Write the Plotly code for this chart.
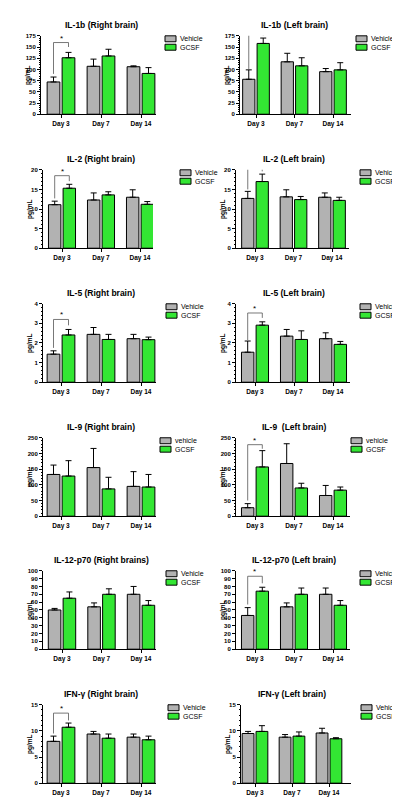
import plotly.graph_objects as go

W, H = 400, 800

days = ["Day 3", "Day 7", "Day 14"]
titles = ["IL-1b (Right brain)", "IL-1b (Left brain)",
          "IL-2 (Right brain)", "IL-2 (Left brain)",
          "IL-5 (Right brain)", "IL-5 (Left brain)",
          "IL-9 (Right brain)", "IL-9  (Left brain)",
          "IL-12-p70 (Right brains)", "IL-12-p70 (Left brain)",
          "IFN-γ (Right brain)", "IFN-γ (Left brain)"]
legend_names = [("Vehicle", "GCSF")] * 6 + [("vehicle", "GCSF")] * 2 + [("Vehicle", "GCSF")] * 4

vehicle_mean = [[72, 107, 106], [78, 117, 95], [11.1, 12.3, 13.0], [12.7, 13.1, 13.0],
                [1.43, 2.44, 2.22], [1.53, 2.35, 2.22], [133, 155, 95], [27, 168, 66],
                [50, 54, 70], [43, 54, 70], [8.0, 9.4, 8.8], [9.5, 8.8, 9.6]]
vehicle_sem = [[11, 16, 2], [21, 19, 7], [0.9, 1.8, 1.9], [1.8, 1.8, 1.1],
               [0.17, 0.35, 0.22], [0.57, 0.34, 0.30], [30, 61, 47], [13, 63, 32],
               [2, 5, 10], [10, 5, 8], [1.0, 0.5, 0.6], [0.4, 0.5, 0.9]]
gcsf_mean = [[126, 130, 91], [158, 108, 99], [15.3, 13.6, 11.2], [17.0, 12.4, 12.2],
             [2.41, 2.18, 2.17], [2.91, 2.18, 1.93], [128, 87, 93], [157, 90, 83],
             [65, 70, 56], [74, 70, 56], [10.7, 8.6, 8.3], [9.9, 9.0, 8.5]]
gcsf_sem = [[12, 15, 13], [12, 18, 16], [1.0, 0.8, 0.7], [1.9, 0.8, 0.8],
            [0.28, 0.26, 0.13], [0.17, 0.44, 0.15], [49, 37, 40], [52, 15, 10],
            [8, 7, 6], [5, 8, 6], [0.8, 0.8, 0.7], [1.1, 0.8, 0.2]]

y_max = [175, 175, 20, 20, 4, 4, 250, 250, 100, 100, 15, 15]
y_dtick = [25, 25, 5, 5, 1, 1, 50, 50, 10, 10, 5, 5]
y_minor = [5, 5, 1, 1, 0.2, 0.2, 10, 10, None, None, 1, 1]

# significance brackets (Day 3): panel -> (top, left bottom, right bottom)
sig_panels = [0, 1, 2, 3, 4, 5, 7, 9, 10]
sig_top = [160, 182, 18.5, 20.6, 3.2, 3.53, 228, 93, 13.4]
sig_left = [90, 101, 12.7, 15.0, 1.75, 2.15, 50, 57, 9.5]
sig_right = [150, 175, 17.1, 19.6, 2.9, 3.28, 215, 84, 12.0]

# ---- layout geometry (pixels) ----
# per panel: axis start, axis end, Day 3 centre, Day 14 centre
ax_x0 = [33, 232, 35, 228, 35, 228, 35, 228, 35, 228, 35, 233]
ax_x1 = [148, 343, 145, 341, 148, 342, 148, 342, 148, 342, 148, 343]
c_d3 = [53, 248, 54, 247, 53, 247, 53, 247, 54, 247, 53, 247]
c_d14 = [133, 325, 132, 324, 133, 325, 133, 325, 133, 325, 133, 321]
row_top = [25, 160, 295, 430, 564, 699]
plot_h = 79
title_dy = 11
legend_box_x = [157, 348, 172, 352, 158, 352, 152, 343, 158, 352, 160, 353]

GRAY = "#b2b2b2"
GREEN = "#33e633"
FONT = "Liberation Sans, Arial, sans-serif"

BAR_OFF = 0.1875

fig = go.Figure()
annotations = []
shapes = []

for i in range(12):
    r, c = divmod(i, 2)
    ax = "" if i == 0 else str(i + 1)
    x0p, x1p = ax_x0[i], ax_x1[i]
    u = (c_d14[i] - c_d3[i]) / 2.0
    rlo = -(c_d3[i] - x0p) / u
    rhi = 2 + (x1p - c_d14[i]) / u
    top = row_top[r]
    bot = top + plot_h
    fig.add_trace(go.Bar(
        x=[0, 1, 2], y=vehicle_mean[i], name=legend_names[i][0],
        marker=dict(color=GRAY, line=dict(color="black", width=1)),
        error_y=dict(type="data", array=vehicle_sem[i], arrayminus=[0, 0, 0], symmetric=False,
                     color="black", thickness=1, width=3),
        xaxis="x" + ax, yaxis="y" + ax, showlegend=False, offsetgroup="v"))
    fig.add_trace(go.Bar(
        x=[0, 1, 2], y=gcsf_mean[i], name=legend_names[i][1],
        marker=dict(color=GREEN, line=dict(color="black", width=1)),
        error_y=dict(type="data", array=gcsf_sem[i], arrayminus=[0, 0, 0], symmetric=False,
                     color="black", thickness=1, width=3),
        xaxis="x" + ax, yaxis="y" + ax, showlegend=False, offsetgroup="g"))

    xa = dict(domain=[x0p / W, x1p / W], anchor="y" + ax, range=[rlo, rhi],
              tickvals=[0, 1, 2], ticktext=days, showline=True, linecolor="black", linewidth=1,
              ticks="outside", ticklen=3, tickcolor="black", showgrid=False, zeroline=False,
              tickfont=dict(family=FONT, size=6.5, color="black", weight="bold"), fixedrange=True)
    ya = dict(domain=[1 - bot / H, 1 - top / H], anchor="x" + ax, range=[0, y_max[i]],
              dtick=y_dtick[i], tick0=0, showline=True, linecolor="black", linewidth=1,
              ticks="outside", ticklen=3, tickcolor="black", showgrid=False, zeroline=False,
              tickfont=dict(family=FONT, size=6, color="black", weight="bold"))
    if y_minor[i]:
        ya["minor"] = dict(dtick=y_minor[i], ticks="outside", ticklen=1.5, tickcolor="black", showgrid=False)
    fig.layout["xaxis" + ax] = xa
    fig.layout["yaxis" + ax] = ya

    # title
    annotations.append(dict(text="<b>%s</b>" % titles[i], xref="paper", yref="paper",
                            x=(c_d3[i] + c_d14[i]) / 2 / W, y=1 - (top - title_dy) / H,
                            xanchor="center", yanchor="middle", showarrow=False,
                            font=dict(family=FONT, size=8.5, color="black")))
    # y title
    annotations.append(dict(text="<b>pg/mL</b>", xref="paper", yref="paper",
                            x=(x0p - 13) / W, y=1 - (top + plot_h / 2) / H,
                            xanchor="center", yanchor="middle", showarrow=False, textangle=-90,
                            font=dict(family=FONT, size=6.5, color="black")))
    # legend
    lx = legend_box_x[i]
    for k, (col, name) in enumerate([(GRAY, legend_names[i][0]), (GREEN, legend_names[i][1])]):
        cy = top + 3 + k * 8.5
        shapes.append(dict(type="rect", xref="paper", yref="paper",
                           x0=lx / W, x1=(lx + 11) / W, y0=1 - (cy - 3) / H, y1=1 - (cy + 3) / H,
                           fillcolor=col, line=dict(color="black", width=1)))
        annotations.append(dict(text=name, xref="paper", yref="paper",
                                x=(lx + 13) / W, y=1 - cy / H, xanchor="left", yanchor="middle",
                                showarrow=False, font=dict(family=FONT, size=7, color="black")))

# significance brackets
for j, p in enumerate(sig_panels):
    ax = "" if p == 0 else str(p + 1)
    xl, xr = 0 - BAR_OFF, 0 + BAR_OFF
    fig.add_trace(go.Scatter(x=[xl, xl, xr, xr], y=[sig_left[j], sig_top[j], sig_top[j], sig_right[j]],
                             mode="lines", line=dict(color="#555555", width=0.8),
                             xaxis="x" + ax, yaxis="y" + ax, showlegend=False, cliponaxis=False,
                             hoverinfo="skip"))
    annotations.append(dict(text="*", x=0, y=sig_top[j], xref="x" + ax, yref="y" + ax,
                            xanchor="center", yanchor="bottom", showarrow=False, yshift=-2,
                            font=dict(family=FONT, size=8, color="black")))

fig.update_layout(width=W, height=H, margin=dict(l=0, r=0, t=0, b=0),
                  paper_bgcolor="white", plot_bgcolor="white",
                  barmode="group", bargap=0.25, bargroupgap=0.15,
                  annotations=annotations, shapes=shapes, showlegend=False,
                  font=dict(family=FONT, color="black"))

fig.write_html("out.html")
